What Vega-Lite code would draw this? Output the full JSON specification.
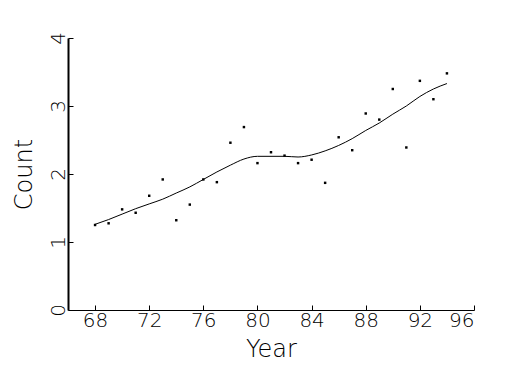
{
  "$schema": "https://vega.github.io/schema/vega-lite/v6.json",
  "autosize": {"type": "none"},
  "padding": {"left": 68, "top": 38, "right": 51, "bottom": 65},
  "width": 406,
  "height": 272,
  "background": "white",
  "config": {
    "view": {"stroke": null},
    "axis": {
      "grid": false,
      "domainColor": "black",
      "tickColor": "black",
      "labelColor": "black",
      "titleColor": "black",
      "labelFont": "DejaVu Sans",
      "titleFont": "DejaVu Sans",
      "labelFontWeight": 200,
      "titleFontWeight": 200,
      "labelFontSize": 20,
      "titleFontSize": 24,
      "tickSize": -5,
      "tickWidth": 1
    }
  },
  "datasets": {
    "pts": [
      {"Year": 68, "Count": 1.25},
      {"Year": 69, "Count": 1.275},
      {"Year": 70, "Count": 1.48},
      {"Year": 71, "Count": 1.43},
      {"Year": 72, "Count": 1.68},
      {"Year": 73, "Count": 1.92},
      {"Year": 74, "Count": 1.32},
      {"Year": 75, "Count": 1.55},
      {"Year": 76, "Count": 1.92},
      {"Year": 77, "Count": 1.88},
      {"Year": 78, "Count": 2.46},
      {"Year": 79, "Count": 2.69},
      {"Year": 80, "Count": 2.16},
      {"Year": 81, "Count": 2.32},
      {"Year": 82, "Count": 2.27},
      {"Year": 83, "Count": 2.16},
      {"Year": 84, "Count": 2.21},
      {"Year": 85, "Count": 1.87},
      {"Year": 86, "Count": 2.54},
      {"Year": 87, "Count": 2.35},
      {"Year": 88, "Count": 2.89},
      {"Year": 89, "Count": 2.80},
      {"Year": 90, "Count": 3.25},
      {"Year": 91, "Count": 2.39},
      {"Year": 92, "Count": 3.37},
      {"Year": 93, "Count": 3.10},
      {"Year": 94, "Count": 3.48}
    ],
    "fit": [
      {"Year": 68, "Fit": 1.26},
      {"Year": 69, "Fit": 1.33},
      {"Year": 70, "Fit": 1.41},
      {"Year": 71, "Fit": 1.49},
      {"Year": 72, "Fit": 1.56},
      {"Year": 73, "Fit": 1.63},
      {"Year": 74, "Fit": 1.72},
      {"Year": 75, "Fit": 1.81},
      {"Year": 76, "Fit": 1.92},
      {"Year": 77, "Fit": 2.03},
      {"Year": 78, "Fit": 2.13},
      {"Year": 79, "Fit": 2.22},
      {"Year": 80, "Fit": 2.26},
      {"Year": 81, "Fit": 2.26},
      {"Year": 82, "Fit": 2.26},
      {"Year": 83, "Fit": 2.25},
      {"Year": 84, "Fit": 2.28},
      {"Year": 85, "Fit": 2.34},
      {"Year": 86, "Fit": 2.42},
      {"Year": 87, "Fit": 2.52},
      {"Year": 88, "Fit": 2.64},
      {"Year": 89, "Fit": 2.75},
      {"Year": 90, "Fit": 2.88},
      {"Year": 91, "Fit": 3.0},
      {"Year": 92, "Fit": 3.14},
      {"Year": 93, "Fit": 3.25},
      {"Year": 94, "Fit": 3.33}
    ]
  },
  "layer": [
    {
      "data": {"name": "pts"},
      "mark": {"type": "square", "size": 6, "color": "black", "opacity": 1},
      "encoding": {
        "x": {
          "field": "Year", "type": "quantitative",
          "scale": {"domain": [66, 96], "nice": false, "zero": false},
          "axis": {
            "title": "Year",
            "values": [68, 70, 72, 74, 76, 78, 80, 82, 84, 86, 88, 90, 92, 94, 96],
            "labelExpr": "datum.value % 4 == 0 ? datum.label : ''",
            "domainWidth": 1,
            "labelPadding": 5,
            "titlePadding": 7
          }
        },
        "y": {
          "field": "Count", "type": "quantitative",
          "scale": {"domain": [0, 4], "nice": false},
          "axis": {
            "title": "Count",
            "values": [0, 1, 2, 3, 4],
            "format": "d",
            "labelAngle": -90,
            "labelAlign": "center",
            "labelBaseline": "bottom",
            "domainWidth": 2,
            "labelPadding": 5,
            "titlePadding": 12
          }
        }
      }
    },
    {
      "data": {"name": "fit"},
      "mark": {"type": "line", "color": "black", "strokeWidth": 1, "interpolate": "monotone"},
      "encoding": {
        "x": {"field": "Year", "type": "quantitative"},
        "y": {"field": "Fit", "type": "quantitative"}
      }
    }
  ]
}
